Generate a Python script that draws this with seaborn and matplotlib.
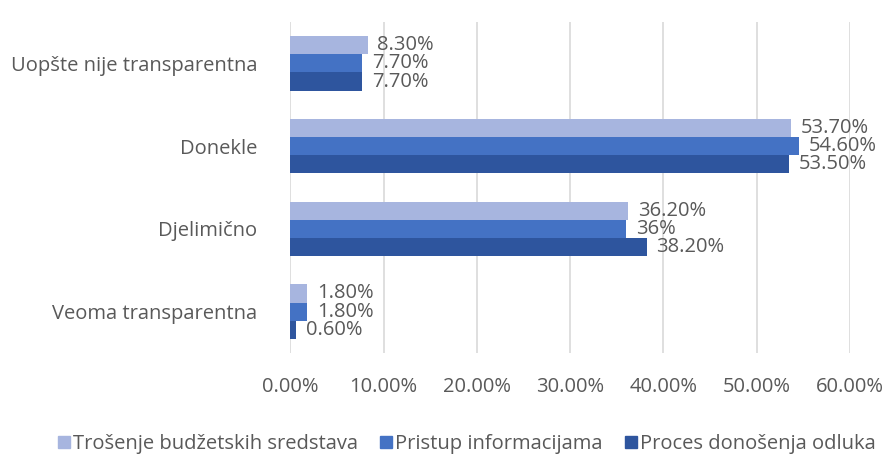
import pandas as pd
import matplotlib.pyplot as plt
import seaborn as sns

# data
categories = ['Uopšte nije transparentna', 'Donekle', 'Djelimično', 'Veoma transparentna']
series = ['Trošenje budžetskih sredstava', 'Pristup informacijama', 'Proces donošenja odluka']
trosenje = [8.30, 53.70, 36.20, 1.80]
pristup = [7.70, 54.60, 36.0, 1.80]
proces = [7.70, 53.50, 38.20, 0.60]
labels_trosenje = ['8.30%', '53.70%', '36.20%', '1.80%']
labels_pristup = ['7.70%', '54.60%', '36%', '1.80%']
labels_proces = ['7.70%', '53.50%', '38.20%', '0.60%']
colors = ['#A7B5DF', '#4472C4', '#2E559E']

rows = []
for s, vals in zip(series, [trosenje, pristup, proces]):
    for c, v in zip(categories, vals):
        rows.append({'kategorija': c, 'serija': s, 'vrijednost': v})
df = pd.DataFrame(rows)

sns.set_style('white')
plt.rcParams['font.family'] = ['Open Sans', 'DejaVu Sans']
gray = '#595959'
fs = 14.5

fig = plt.figure(figsize=(8.88, 4.54), dpi=100)
ax = fig.add_axes([0.327, 0.2225, 0.63, 0.729])

sns.barplot(data=df, y='kategorija', x='vrijednost', hue='serija', order=categories,
            hue_order=series, palette=colors, saturation=1, width=0.66, orient='h',
            ax=ax, edgecolor='none', legend=False)

for cont, labs in zip(ax.containers, [labels_trosenje, labels_pristup, labels_proces]):
    ax.bar_label(cont, labels=labs, padding=7, fontsize=fs, color=gray)

ax.set_xlim(0, 60)
ax.set_xticks(range(0, 61, 10))
ax.set_xticklabels([f'{t:.2f}%' for t in range(0, 61, 10)])
ax.xaxis.grid(True, color='#D9D9D9', linewidth=1.2)
ax.set_axisbelow(True)
for sp in ax.spines.values():
    sp.set_visible(False)
ax.set_xlabel('')
ax.set_ylabel('')
ax.tick_params(axis='x', labelsize=fs, colors=gray, length=0, pad=17)
ax.tick_params(axis='y', labelsize=fs, colors=gray, length=0, pad=24)

handles = [plt.Rectangle((0, 0), 1, 1, color=c) for c in colors]
fig.legend(handles, series, loc='lower left', bbox_to_anchor=(0.045, -0.04),
           ncol=3, frameon=False, fontsize=fs, labelcolor=gray,
           handlelength=0.6, handleheight=0.6, handletextpad=0.15, columnspacing=1.1)

fig.savefig('out.png', dpi=100)
